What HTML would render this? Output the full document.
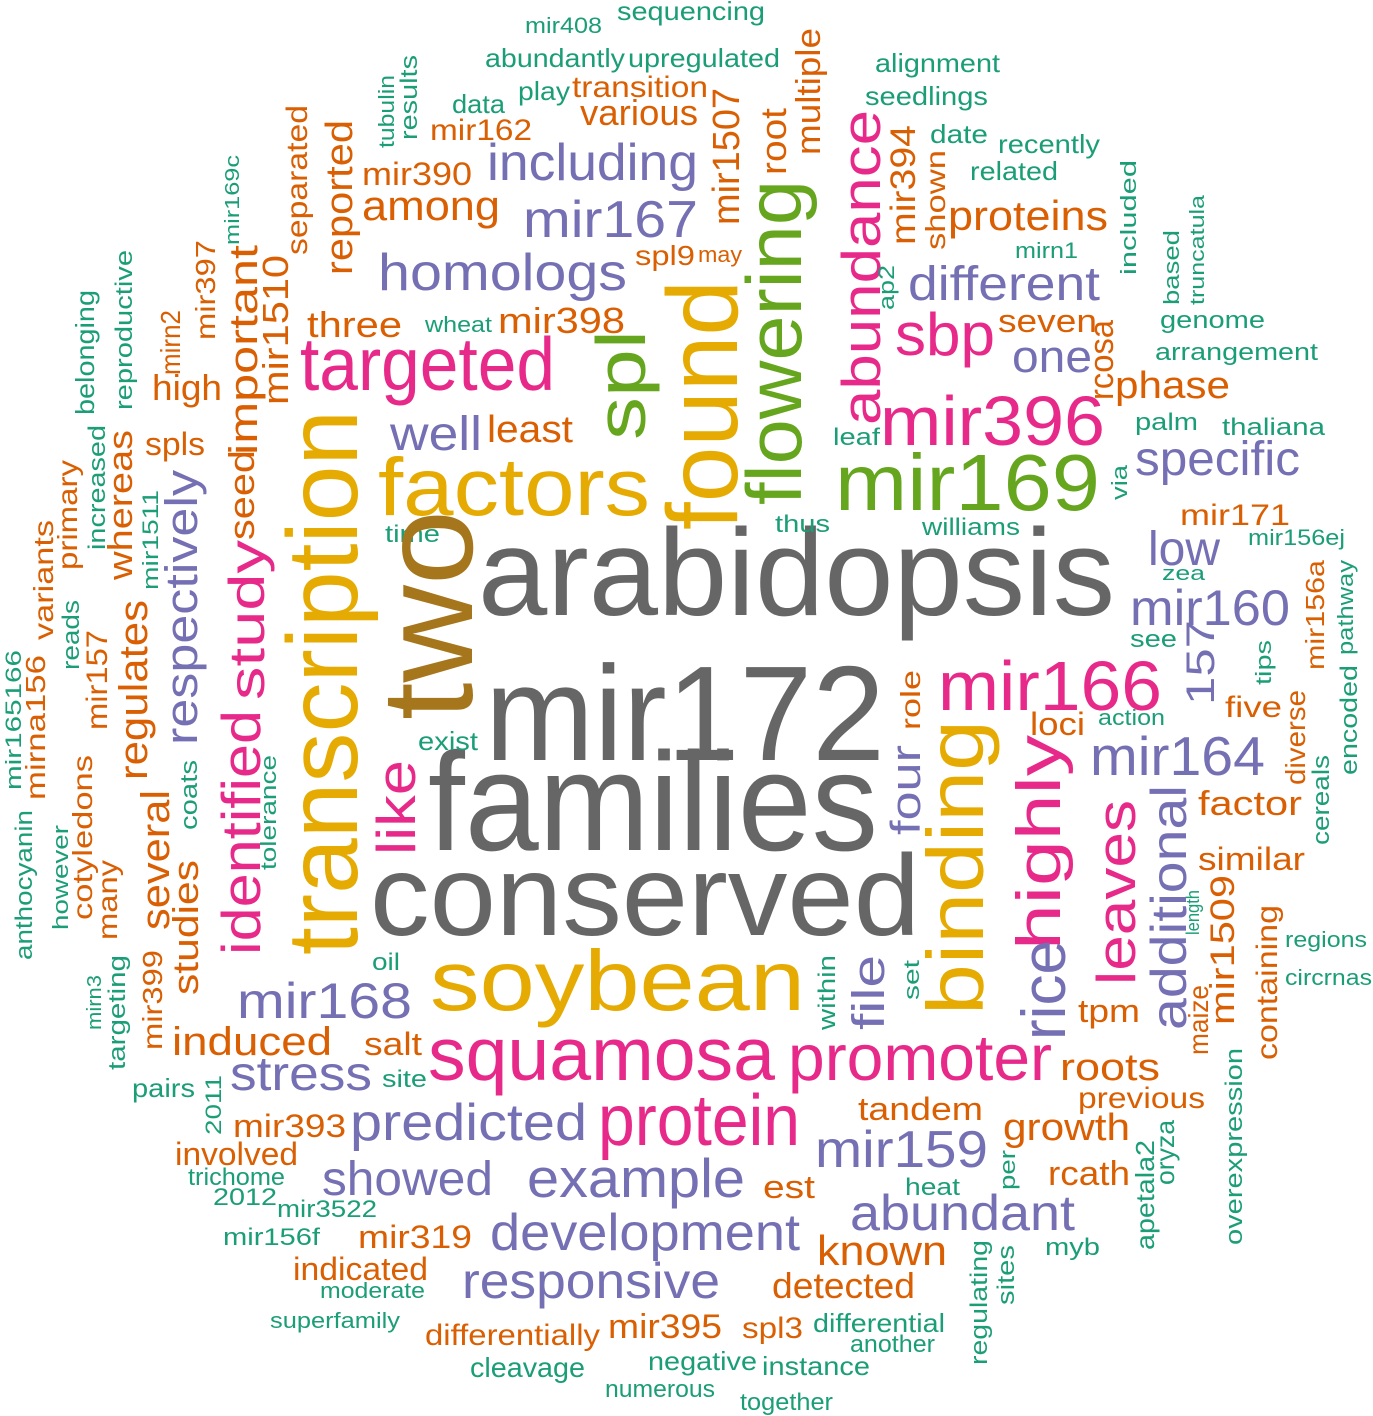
<!DOCTYPE html>
<html><head><meta charset="utf-8"><style>
html,body{margin:0;padding:0;background:#fff}
svg{display:block}
text{font-family:"Liberation Sans",Arial,sans-serif}
.G{fill:#666666}.Y{fill:#E6AB02}.P{fill:#E7298A}.U{fill:#7570B3}.O{fill:#D95F02}.N{fill:#1B9E77}.L{fill:#66A61E}.B{fill:#A6761D}
</style></head><body>
<svg width="1373" height="1416" viewBox="0 0 1373 1416" xmlns="http://www.w3.org/2000/svg">
<g lengthAdjust="spacingAndGlyphs">
<!-- big horizontal -->
<text class="G" x="485" y="760" font-size="135" textLength="400" lengthAdjust="spacingAndGlyphs">mir172</text>
<text class="G" x="428" y="850" font-size="140" textLength="450" lengthAdjust="spacingAndGlyphs">families</text>
<text class="G" x="478" y="615" font-size="123" textLength="637" lengthAdjust="spacingAndGlyphs">arabidopsis</text>
<text class="G" x="370" y="935" font-size="115" textLength="550" lengthAdjust="spacingAndGlyphs">conserved</text>
<text class="Y" x="378" y="515" font-size="82" textLength="272" lengthAdjust="spacingAndGlyphs">factors</text>
<text class="Y" x="430" y="1010" font-size="85" textLength="375" lengthAdjust="spacingAndGlyphs">soybean</text>
<text class="L" x="835" y="510" font-size="80" textLength="265" lengthAdjust="spacingAndGlyphs">mir169</text>
<text class="P" x="880" y="445" font-size="70" textLength="225" lengthAdjust="spacingAndGlyphs">mir396</text>
<text class="P" x="300" y="390" font-size="75" textLength="255" lengthAdjust="spacingAndGlyphs">targeted</text>
<text class="P" x="428" y="1080" font-size="75" textLength="347" lengthAdjust="spacingAndGlyphs">squamosa</text>
<text class="P" x="788" y="1080" font-size="65" textLength="264" lengthAdjust="spacingAndGlyphs">promoter</text>
<text class="P" x="598" y="1145" font-size="72" textLength="202" lengthAdjust="spacingAndGlyphs">protein</text>
<text class="P" x="938" y="710" font-size="70" textLength="224" lengthAdjust="spacingAndGlyphs">mir166</text>
<text class="U" x="1090" y="775" font-size="55" textLength="175" lengthAdjust="spacingAndGlyphs">mir164</text>
<text class="U" x="1130" y="625" font-size="50" textLength="160" lengthAdjust="spacingAndGlyphs">mir160</text>
<text class="U" x="1148" y="565" font-size="48" textLength="72" lengthAdjust="spacingAndGlyphs">low</text>
<text class="U" x="1135" y="475" font-size="48" textLength="165" lengthAdjust="spacingAndGlyphs">specific</text>
<text class="U" x="908" y="300" font-size="48" textLength="192" lengthAdjust="spacingAndGlyphs">different</text>
<text class="P" x="895" y="355" font-size="60" textLength="100" lengthAdjust="spacingAndGlyphs">sbp</text>
<text class="U" x="1012" y="372" font-size="45" textLength="80" lengthAdjust="spacingAndGlyphs">one</text>
<text class="O" x="948" y="230" font-size="42" textLength="160" lengthAdjust="spacingAndGlyphs">proteins</text>
<text class="O" x="1115" y="398" font-size="38" textLength="115" lengthAdjust="spacingAndGlyphs">phase</text>
<text class="U" x="378" y="290" font-size="52" textLength="249" lengthAdjust="spacingAndGlyphs">homologs</text>
<text class="U" x="523" y="237" font-size="52" textLength="175" lengthAdjust="spacingAndGlyphs">mir167</text>
<text class="U" x="487" y="180" font-size="52" textLength="211" lengthAdjust="spacingAndGlyphs">including</text>
<text class="O" x="362" y="220" font-size="42" textLength="138" lengthAdjust="spacingAndGlyphs">among</text>
<text class="O" x="362" y="185" font-size="32" textLength="110" lengthAdjust="spacingAndGlyphs">mir390</text>
<text class="O" x="307" y="337" font-size="36" textLength="95" lengthAdjust="spacingAndGlyphs">three</text>
<text class="O" x="498" y="333" font-size="36" textLength="127" lengthAdjust="spacingAndGlyphs">mir398</text>
<text class="O" x="635" y="265" font-size="28" textLength="60" lengthAdjust="spacingAndGlyphs">spl9</text>
<text class="O" x="698" y="262" font-size="22" textLength="44" lengthAdjust="spacingAndGlyphs">may</text>
<text class="O" x="580" y="125" font-size="36" textLength="118" lengthAdjust="spacingAndGlyphs">various</text>
<text class="O" x="572" y="97" font-size="30" textLength="136" lengthAdjust="spacingAndGlyphs">transition</text>
<text class="N" x="628" y="67" font-size="26" textLength="152" lengthAdjust="spacingAndGlyphs">upregulated</text>
<text class="N" x="485" y="67" font-size="26" textLength="140" lengthAdjust="spacingAndGlyphs">abundantly</text>
<text class="N" x="617" y="20" font-size="26" textLength="148" lengthAdjust="spacingAndGlyphs">sequencing</text>
<text class="N" x="525" y="33" font-size="22" textLength="77" lengthAdjust="spacingAndGlyphs">mir408</text>
<text class="N" x="518" y="100" font-size="26" textLength="52" lengthAdjust="spacingAndGlyphs">play</text>
<text class="N" x="452" y="113" font-size="26" textLength="53" lengthAdjust="spacingAndGlyphs">data</text>
<text class="O" x="430" y="140" font-size="30" textLength="102" lengthAdjust="spacingAndGlyphs">mir162</text>
<text class="O" x="152" y="400" font-size="36" textLength="70" lengthAdjust="spacingAndGlyphs">high</text>
<text class="O" x="145" y="455" font-size="32" textLength="60" lengthAdjust="spacingAndGlyphs">spls</text>
<text class="N" x="418" y="750" font-size="26" textLength="60" lengthAdjust="spacingAndGlyphs">exist</text>
<text class="N" x="132" y="1097" font-size="26" textLength="63" lengthAdjust="spacingAndGlyphs">pairs</text>
<text class="U" x="237" y="1018" font-size="50" textLength="175" lengthAdjust="spacingAndGlyphs">mir168</text>
<text class="O" x="172" y="1055" font-size="40" textLength="160" lengthAdjust="spacingAndGlyphs">induced</text>
<text class="U" x="230" y="1090" font-size="48" textLength="142" lengthAdjust="spacingAndGlyphs">stress</text>
<text class="N" x="372" y="970" font-size="24" textLength="28" lengthAdjust="spacingAndGlyphs">oil</text>
<text class="O" x="364" y="1055" font-size="32" textLength="58" lengthAdjust="spacingAndGlyphs">salt</text>
<text class="N" x="382" y="1087" font-size="24" textLength="45" lengthAdjust="spacingAndGlyphs">site</text>
<text class="O" x="233" y="1137" font-size="32" textLength="113" lengthAdjust="spacingAndGlyphs">mir393</text>
<text class="U" x="350" y="1140" font-size="52" textLength="237" lengthAdjust="spacingAndGlyphs">predicted</text>
<text class="O" x="175" y="1165" font-size="32" textLength="123" lengthAdjust="spacingAndGlyphs">involved</text>
<text class="N" x="188" y="1185" font-size="24" textLength="97" lengthAdjust="spacingAndGlyphs">trichome</text>
<text class="N" x="213" y="1205" font-size="24" textLength="64" lengthAdjust="spacingAndGlyphs">2012</text>
<text class="U" x="322" y="1195" font-size="48" textLength="171" lengthAdjust="spacingAndGlyphs">showed</text>
<text class="N" x="277" y="1217" font-size="24" textLength="100" lengthAdjust="spacingAndGlyphs">mir3522</text>
<text class="N" x="223" y="1245" font-size="24" textLength="97" lengthAdjust="spacingAndGlyphs">mir156f</text>
<text class="O" x="358" y="1248" font-size="32" textLength="114" lengthAdjust="spacingAndGlyphs">mir319</text>
<text class="O" x="293" y="1280" font-size="32" textLength="135" lengthAdjust="spacingAndGlyphs">indicated</text>
<text class="N" x="320" y="1298" font-size="22" textLength="105" lengthAdjust="spacingAndGlyphs">moderate</text>
<text class="N" x="270" y="1328" font-size="22" textLength="130" lengthAdjust="spacingAndGlyphs">superfamily</text>
<text class="U" x="527" y="1197" font-size="55" textLength="218" lengthAdjust="spacingAndGlyphs">example</text>
<text class="U" x="490" y="1250" font-size="52" textLength="310" lengthAdjust="spacingAndGlyphs">development</text>
<text class="U" x="462" y="1298" font-size="50" textLength="258" lengthAdjust="spacingAndGlyphs">responsive</text>
<text class="O" x="425" y="1345" font-size="30" textLength="175" lengthAdjust="spacingAndGlyphs">differentially</text>
<text class="N" x="470" y="1377" font-size="28" textLength="115" lengthAdjust="spacingAndGlyphs">cleavage</text>
<text class="O" x="608" y="1338" font-size="34" textLength="114" lengthAdjust="spacingAndGlyphs">mir395</text>
<text class="N" x="648" y="1370" font-size="26" textLength="109" lengthAdjust="spacingAndGlyphs">negative</text>
<text class="N" x="605" y="1397" font-size="24" textLength="110" lengthAdjust="spacingAndGlyphs">numerous</text>
<text class="N" x="740" y="1410" font-size="24" textLength="93" lengthAdjust="spacingAndGlyphs">together</text>
<text class="N" x="762" y="1375" font-size="26" textLength="108" lengthAdjust="spacingAndGlyphs">instance</text>
<text class="O" x="742" y="1338" font-size="30" textLength="61" lengthAdjust="spacingAndGlyphs">spl3</text>
<text class="N" x="813" y="1332" font-size="26" textLength="132" lengthAdjust="spacingAndGlyphs">differential</text>
<text class="N" x="850" y="1352" font-size="24" textLength="85" lengthAdjust="spacingAndGlyphs">another</text>
<text class="O" x="772" y="1298" font-size="36" textLength="143" lengthAdjust="spacingAndGlyphs">detected</text>
<text class="O" x="817" y="1265" font-size="42" textLength="130" lengthAdjust="spacingAndGlyphs">known</text>
<text class="U" x="850" y="1230" font-size="50" textLength="225" lengthAdjust="spacingAndGlyphs">abundant</text>
<text class="U" x="815" y="1167" font-size="52" textLength="173" lengthAdjust="spacingAndGlyphs">mir159</text>
<text class="O" x="858" y="1120" font-size="32" textLength="125" lengthAdjust="spacingAndGlyphs">tandem</text>
<text class="O" x="763" y="1198" font-size="32" textLength="52" lengthAdjust="spacingAndGlyphs">est</text>
<text class="N" x="905" y="1195" font-size="24" textLength="55" lengthAdjust="spacingAndGlyphs">heat</text>
<text class="O" x="1003" y="1140" font-size="38" textLength="127" lengthAdjust="spacingAndGlyphs">growth</text>
<text class="O" x="1048" y="1185" font-size="34" textLength="82" lengthAdjust="spacingAndGlyphs">rcath</text>
<text class="O" x="1078" y="1108" font-size="30" textLength="127" lengthAdjust="spacingAndGlyphs">previous</text>
<text class="O" x="1060" y="1080" font-size="38" textLength="100" lengthAdjust="spacingAndGlyphs">roots</text>
<text class="O" x="1078" y="1022" font-size="32" textLength="62" lengthAdjust="spacingAndGlyphs">tpm</text>
<text class="N" x="1045" y="1255" font-size="24" textLength="55" lengthAdjust="spacingAndGlyphs">myb</text>
<text class="O" x="1198" y="870" font-size="32" textLength="107" lengthAdjust="spacingAndGlyphs">similar</text>
<text class="O" x="1198" y="815" font-size="34" textLength="104" lengthAdjust="spacingAndGlyphs">factor</text>
<text class="O" x="1225" y="717" font-size="30" textLength="57" lengthAdjust="spacingAndGlyphs">five</text>
<text class="N" x="1285" y="947" font-size="22" textLength="82" lengthAdjust="spacingAndGlyphs">regions</text>
<text class="N" x="1285" y="985" font-size="22" textLength="87" lengthAdjust="spacingAndGlyphs">circrnas</text>
<text class="O" x="1030" y="735" font-size="32" textLength="55" lengthAdjust="spacingAndGlyphs">loci</text>
<text class="N" x="1098" y="725" font-size="22" textLength="67" lengthAdjust="spacingAndGlyphs">action</text>
<text class="N" x="1130" y="647" font-size="24" textLength="47" lengthAdjust="spacingAndGlyphs">see</text>
<text class="N" x="1162" y="580" font-size="20" textLength="43" lengthAdjust="spacingAndGlyphs">zea</text>
<text class="N" x="1248" y="545" font-size="22" textLength="97" lengthAdjust="spacingAndGlyphs">mir156ej</text>
<text class="O" x="1180" y="525" font-size="30" textLength="110" lengthAdjust="spacingAndGlyphs">mir171</text>
<text class="N" x="922" y="535" font-size="24" textLength="98" lengthAdjust="spacingAndGlyphs">williams</text>
<text class="N" x="775" y="532" font-size="24" textLength="55" lengthAdjust="spacingAndGlyphs">thus</text>
<text class="N" x="385" y="542" font-size="24" textLength="55" lengthAdjust="spacingAndGlyphs">time</text>
<text class="N" x="833" y="445" font-size="24" textLength="47" lengthAdjust="spacingAndGlyphs">leaf</text>
<text class="N" x="1135" y="430" font-size="24" textLength="63" lengthAdjust="spacingAndGlyphs">palm</text>
<text class="N" x="1222" y="435" font-size="24" textLength="103" lengthAdjust="spacingAndGlyphs">thaliana</text>
<text class="N" x="1155" y="360" font-size="24" textLength="163" lengthAdjust="spacingAndGlyphs">arrangement</text>
<text class="N" x="1160" y="328" font-size="24" textLength="105" lengthAdjust="spacingAndGlyphs">genome</text>
<text class="O" x="998" y="332" font-size="32" textLength="99" lengthAdjust="spacingAndGlyphs">seven</text>
<text class="N" x="425" y="332" font-size="22" textLength="67" lengthAdjust="spacingAndGlyphs">wheat</text>
<text class="N" x="1015" y="258" font-size="22" textLength="63" lengthAdjust="spacingAndGlyphs">mirn1</text>
<text class="N" x="970" y="180" font-size="26" textLength="88" lengthAdjust="spacingAndGlyphs">related</text>
<text class="N" x="998" y="153" font-size="26" textLength="102" lengthAdjust="spacingAndGlyphs">recently</text>
<text class="N" x="930" y="143" font-size="26" textLength="58" lengthAdjust="spacingAndGlyphs">date</text>
<text class="N" x="865" y="105" font-size="26" textLength="123" lengthAdjust="spacingAndGlyphs">seedlings</text>
<text class="N" x="875" y="72" font-size="26" textLength="125" lengthAdjust="spacingAndGlyphs">alignment</text>
<text class="O" x="487" y="442" font-size="38" textLength="86" lengthAdjust="spacingAndGlyphs">least</text>
<text class="U" x="390" y="450" font-size="48" textLength="92" lengthAdjust="spacingAndGlyphs">well</text>
<!-- rotated -->
<text class="B" transform="translate(472,720) rotate(-90)" font-size="130" textLength="210" lengthAdjust="spacingAndGlyphs">two</text>
<text class="Y" transform="translate(357,955) rotate(-90)" font-size="100" textLength="545" lengthAdjust="spacingAndGlyphs">transcription</text>
<text class="Y" transform="translate(737,530) rotate(-90)" font-size="100" textLength="250" lengthAdjust="spacingAndGlyphs">found</text>
<text class="L" transform="translate(645,440) rotate(-90)" font-size="70" textLength="110" lengthAdjust="spacingAndGlyphs">spl</text>
<text class="L" transform="translate(801,505) rotate(-90)" font-size="78" textLength="325" lengthAdjust="spacingAndGlyphs">flowering</text>
<text class="P" transform="translate(880,425) rotate(-90)" font-size="55" textLength="315" lengthAdjust="spacingAndGlyphs">abundance</text>
<text class="O" transform="translate(915,245) rotate(-90)" font-size="35" textLength="120" lengthAdjust="spacingAndGlyphs">mir394</text>
<text class="O" transform="translate(945,250) rotate(-90)" font-size="28" textLength="100" lengthAdjust="spacingAndGlyphs">shown</text>
<text class="O" transform="translate(352,275) rotate(-90)" font-size="38" textLength="155" lengthAdjust="spacingAndGlyphs">reported</text>
<text class="O" transform="translate(307,255) rotate(-90)" font-size="30" textLength="150" lengthAdjust="spacingAndGlyphs">separated</text>
<text class="O" transform="translate(739,225) rotate(-90)" font-size="38" textLength="137" lengthAdjust="spacingAndGlyphs">mir1507</text>
<text class="O" transform="translate(786,175) rotate(-90)" font-size="36" textLength="67" lengthAdjust="spacingAndGlyphs">root</text>
<text class="O" transform="translate(820,155) rotate(-90)" font-size="34" textLength="127" lengthAdjust="spacingAndGlyphs">multiple</text>
<text class="N" transform="translate(417,140) rotate(-90)" font-size="24" textLength="85" lengthAdjust="spacingAndGlyphs">results</text>
<text class="N" transform="translate(394,148) rotate(-90)" font-size="22" textLength="73" lengthAdjust="spacingAndGlyphs">tubulin</text>
<text class="N" transform="translate(239,245) rotate(-90)" font-size="20" textLength="90" lengthAdjust="spacingAndGlyphs">mir169c</text>
<text class="O" transform="translate(215,340) rotate(-90)" font-size="28" textLength="100" lengthAdjust="spacingAndGlyphs">mir397</text>
<text class="O" transform="translate(288,405) rotate(-90)" font-size="36" textLength="150" lengthAdjust="spacingAndGlyphs">mir1510</text>
<text class="O" transform="translate(257,455) rotate(-90)" font-size="40" textLength="210" lengthAdjust="spacingAndGlyphs">important</text>
<text class="O" transform="translate(180,375) rotate(-90)" font-size="28" textLength="65" lengthAdjust="spacingAndGlyphs">mirn2</text>
<text class="N" transform="translate(132,410) rotate(-90)" font-size="24" textLength="160" lengthAdjust="spacingAndGlyphs">reproductive</text>
<text class="N" transform="translate(94,415) rotate(-90)" font-size="26" textLength="125" lengthAdjust="spacingAndGlyphs">belonging</text>
<text class="N" transform="translate(105,550) rotate(-90)" font-size="24" textLength="125" lengthAdjust="spacingAndGlyphs">increased</text>
<text class="O" transform="translate(77,570) rotate(-90)" font-size="28" textLength="110" lengthAdjust="spacingAndGlyphs">primary</text>
<text class="O" transform="translate(53,640) rotate(-90)" font-size="28" textLength="120" lengthAdjust="spacingAndGlyphs">variants</text>
<text class="N" transform="translate(158,590) rotate(-90)" font-size="22" textLength="100" lengthAdjust="spacingAndGlyphs">mir1511</text>
<text class="O" transform="translate(132,580) rotate(-90)" font-size="34" textLength="150" lengthAdjust="spacingAndGlyphs">whereas</text>
<text class="U" transform="translate(197,745) rotate(-90)" font-size="45" textLength="275" lengthAdjust="spacingAndGlyphs">respectively</text>
<text class="O" transform="translate(254,540) rotate(-90)" font-size="36" textLength="90" lengthAdjust="spacingAndGlyphs">seed</text>
<text class="P" transform="translate(264,700) rotate(-90)" font-size="50" textLength="160" lengthAdjust="spacingAndGlyphs">study</text>
<text class="P" transform="translate(260,955) rotate(-90)" font-size="55" textLength="245" lengthAdjust="spacingAndGlyphs">identified</text>
<text class="O" transform="translate(147,780) rotate(-90)" font-size="40" textLength="180" lengthAdjust="spacingAndGlyphs">regulates</text>
<text class="O" transform="translate(169,930) rotate(-90)" font-size="40" textLength="140" lengthAdjust="spacingAndGlyphs">several</text>
<text class="O" transform="translate(198,995) rotate(-90)" font-size="36" textLength="135" lengthAdjust="spacingAndGlyphs">studies</text>
<text class="N" transform="translate(197,830) rotate(-90)" font-size="24" textLength="70" lengthAdjust="spacingAndGlyphs">coats</text>
<text class="N" transform="translate(276,870) rotate(-90)" font-size="22" textLength="115" lengthAdjust="spacingAndGlyphs">tolerance</text>
<text class="P" transform="translate(415,855) rotate(-90)" font-size="55" textLength="95" lengthAdjust="spacingAndGlyphs">like</text>
<text class="N" transform="translate(79,670) rotate(-90)" font-size="24" textLength="70" lengthAdjust="spacingAndGlyphs">reads</text>
<text class="O" transform="translate(107,730) rotate(-90)" font-size="30" textLength="100" lengthAdjust="spacingAndGlyphs">mir157</text>
<text class="O" transform="translate(45,800) rotate(-90)" font-size="28" textLength="145" lengthAdjust="spacingAndGlyphs">mirna156</text>
<text class="N" transform="translate(21,790) rotate(-90)" font-size="22" textLength="140" lengthAdjust="spacingAndGlyphs">mir165166</text>
<text class="O" transform="translate(92,920) rotate(-90)" font-size="28" textLength="165" lengthAdjust="spacingAndGlyphs">cotyledons</text>
<text class="N" transform="translate(32,960) rotate(-90)" font-size="24" textLength="150" lengthAdjust="spacingAndGlyphs">anthocyanin</text>
<text class="N" transform="translate(68,930) rotate(-90)" font-size="22" textLength="105" lengthAdjust="spacingAndGlyphs">however</text>
<text class="O" transform="translate(117,940) rotate(-90)" font-size="28" textLength="80" lengthAdjust="spacingAndGlyphs">many</text>
<text class="O" transform="translate(162,1050) rotate(-90)" font-size="28" textLength="100" lengthAdjust="spacingAndGlyphs">mir399</text>
<text class="N" transform="translate(101,1030) rotate(-90)" font-size="20" textLength="55" lengthAdjust="spacingAndGlyphs">mirn3</text>
<text class="N" transform="translate(125,1070) rotate(-90)" font-size="24" textLength="115" lengthAdjust="spacingAndGlyphs">targeting</text>
<text class="N" transform="translate(221,1135) rotate(-90)" font-size="22" textLength="60" lengthAdjust="spacingAndGlyphs">2011</text>
<text class="N" transform="translate(987,1365) rotate(-90)" font-size="24" textLength="125" lengthAdjust="spacingAndGlyphs">regulating</text>
<text class="N" transform="translate(1014,1305) rotate(-90)" font-size="24" textLength="60" lengthAdjust="spacingAndGlyphs">sites</text>
<text class="N" transform="translate(1015,1190) rotate(-90)" font-size="22" textLength="40" lengthAdjust="spacingAndGlyphs">per</text>
<text class="N" transform="translate(1174,1185) rotate(-90)" font-size="26" textLength="65" lengthAdjust="spacingAndGlyphs">oryza</text>
<text class="N" transform="translate(1154,1250) rotate(-90)" font-size="26" textLength="110" lengthAdjust="spacingAndGlyphs">apetala2</text>
<text class="N" transform="translate(1242,1245) rotate(-90)" font-size="24" textLength="197" lengthAdjust="spacingAndGlyphs">overexpression</text>
<text class="O" transform="translate(1208,1055) rotate(-90)" font-size="28" textLength="70" lengthAdjust="spacingAndGlyphs">maize</text>
<text class="O" transform="translate(1234,1025) rotate(-90)" font-size="34" textLength="150" lengthAdjust="spacingAndGlyphs">mir1509</text>
<text class="N" transform="translate(1199,935) rotate(-90)" font-size="18" textLength="45" lengthAdjust="spacingAndGlyphs">length</text>
<text class="O" transform="translate(1277,1060) rotate(-90)" font-size="30" textLength="155" lengthAdjust="spacingAndGlyphs">containing</text>
<text class="O" transform="translate(1305,785) rotate(-90)" font-size="28" textLength="95" lengthAdjust="spacingAndGlyphs">diverse</text>
<text class="U" transform="translate(1214,705) rotate(-90)" font-size="40" textLength="85" lengthAdjust="spacingAndGlyphs">157</text>
<text class="O" transform="translate(1324,670) rotate(-90)" font-size="26" textLength="110" lengthAdjust="spacingAndGlyphs">mir156a</text>
<text class="N" transform="translate(1271,685) rotate(-90)" font-size="22" textLength="45" lengthAdjust="spacingAndGlyphs">tips</text>
<text class="N" transform="translate(1353,655) rotate(-90)" font-size="22" textLength="95" lengthAdjust="spacingAndGlyphs">pathway</text>
<text class="N" transform="translate(1357,775) rotate(-90)" font-size="24" textLength="110" lengthAdjust="spacingAndGlyphs">encoded</text>
<text class="N" transform="translate(1329,845) rotate(-90)" font-size="24" textLength="90" lengthAdjust="spacingAndGlyphs">cereals</text>
<text class="O" transform="translate(920,730) rotate(-90)" font-size="28" textLength="60" lengthAdjust="spacingAndGlyphs">role</text>
<text class="U" transform="translate(920,835) rotate(-90)" font-size="42" textLength="90" lengthAdjust="spacingAndGlyphs">four</text>
<text class="U" transform="translate(884,1030) rotate(-90)" font-size="45" textLength="75" lengthAdjust="spacingAndGlyphs">file</text>
<text class="N" transform="translate(835,1030) rotate(-90)" font-size="24" textLength="75" lengthAdjust="spacingAndGlyphs">within</text>
<text class="N" transform="translate(919,1000) rotate(-90)" font-size="22" textLength="40" lengthAdjust="spacingAndGlyphs">set</text>
<text class="N" transform="translate(1127,500) rotate(-90)" font-size="22" textLength="35" lengthAdjust="spacingAndGlyphs">via</text>
<text class="O" transform="translate(1113,400) rotate(-90)" font-size="34" textLength="80" lengthAdjust="spacingAndGlyphs">rcosa</text>
<text class="N" transform="translate(894,310) rotate(-90)" font-size="22" textLength="45" lengthAdjust="spacingAndGlyphs">ap2</text>
<text class="N" transform="translate(1136,275) rotate(-90)" font-size="22" textLength="115" lengthAdjust="spacingAndGlyphs">included</text>
<text class="N" transform="translate(1179,305) rotate(-90)" font-size="22" textLength="75" lengthAdjust="spacingAndGlyphs">based</text>
<text class="N" transform="translate(1204,305) rotate(-90)" font-size="20" textLength="110" lengthAdjust="spacingAndGlyphs">truncatula</text>
<text class="Y" transform="translate(983,1015) rotate(-90)" font-size="80" textLength="295" lengthAdjust="spacingAndGlyphs">binding</text>
<text class="P" transform="translate(1060,950) rotate(-90)" font-size="62" textLength="215" lengthAdjust="spacingAndGlyphs">highly</text>
<text class="U" transform="translate(1065,1040) rotate(-90)" font-size="62" textLength="100" lengthAdjust="spacingAndGlyphs">rice</text>
<text class="P" transform="translate(1135,985) rotate(-90)" font-size="55" textLength="185" lengthAdjust="spacingAndGlyphs">leaves</text>
<text class="U" transform="translate(1186,1030) rotate(-90)" font-size="50" textLength="245" lengthAdjust="spacingAndGlyphs">additional</text>
</g>
</svg>
</body></html>
